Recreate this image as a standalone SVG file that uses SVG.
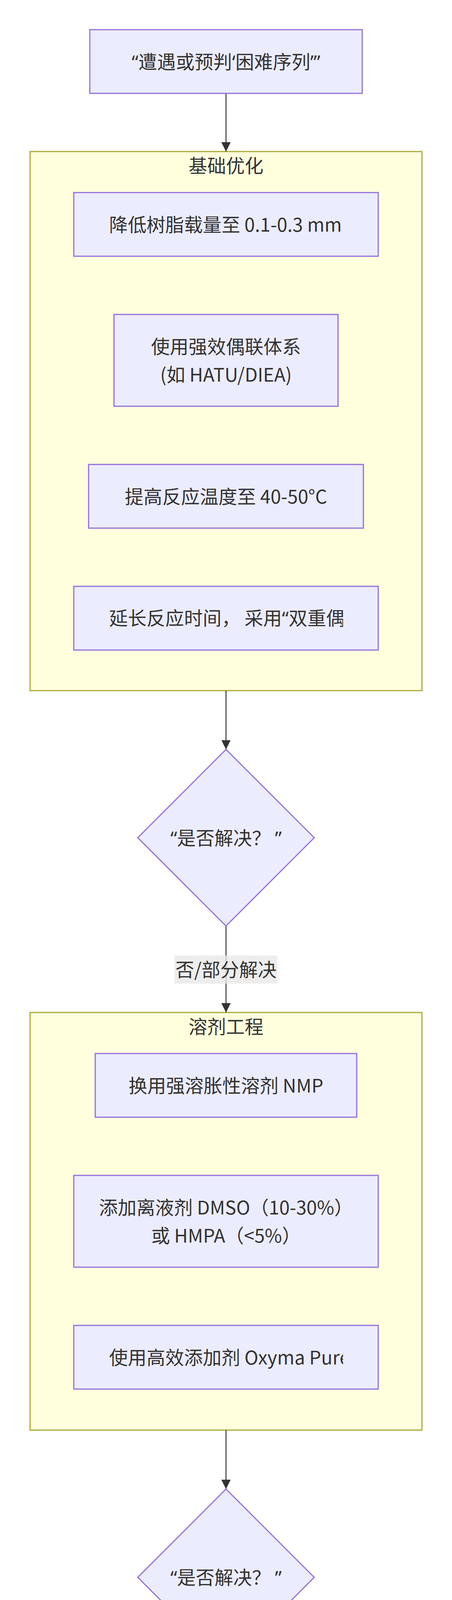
<svg xmlns="http://www.w3.org/2000/svg" width="1158" height="5701" viewBox="0 0 1158 5701">
<style>
.node rect, .node polygon { fill:#ECECFF; stroke:#9370DB; stroke-width:3; }
.cluster rect { fill:#FFFFDE; stroke:#AAAA33; stroke-width:3; }
text { font-family:'Noto Sans CJK SC','Noto Sans CJK JP',sans-serif; font-size:48px; fill:#333333; }
.q { font-family:'Noto Sans','Liberation Sans',sans-serif; }
.c { text-anchor:middle; }
.s { text-anchor:start; }
.edge { stroke:#333333; stroke-width:2.5; fill:none; marker-end:url(#arrow); }
.lbl { fill:#e8e8e8; fill-opacity:0.8; }
</style>
<defs>
<marker id="arrow" viewBox="0 0 10 10" refX="10" refY="5" markerUnits="userSpaceOnUse" markerWidth="24" markerHeight="24" orient="auto">
<path d="M0,0 L10,5 L0,10 z" fill="#333333"/>
</marker>
<clipPath id="clipN1"><rect x="279" y="493" width="600" height="163"/></clipPath>
<clipPath id="clipN4"><rect x="279" y="1501" width="600" height="163"/></clipPath>
<clipPath id="clipN7"><rect x="279" y="3393" width="600" height="163"/></clipPath>
</defs>
<rect x="0" y="0" width="1158" height="5701" fill="#ffffff"/>

<g id="clusters">
<g id="cluster-basic" class="cluster">
<rect x="77" y="388" width="1004" height="1380"/>
<text class="c" x="579" y="442">基础优化</text>
</g>
<g id="cluster-solvent" class="cluster">
<rect x="77" y="2592" width="1004" height="1069"/>
<text class="c" x="579" y="2646">溶剂工程</text>
</g>
<g id="cluster-backbone" class="cluster">
<rect x="100" y="4484" width="958" height="829"/>
<text class="c" x="579" y="4538">终极方案：骨架修饰</text>
</g>
</g>

<g id="connectors">
<line class="edge" x1="579" y1="239" x2="579" y2="388"/>
<line class="edge" x1="579" y1="1768" x2="579" y2="1918.5"/>
<line class="edge" x1="579" y1="2370.5" x2="579" y2="2592"/>
<line class="edge" x1="579" y1="3661" x2="579" y2="3812"/>
<line class="edge" x1="579" y1="4264" x2="579" y2="4484"/>
<line class="edge" x1="579" y1="5313" x2="579" y2="5462"/>
<g id="label-partial">
<rect class="lbl" x="447" y="2446" width="264" height="72"/>
<text class="c" x="579" y="2500">否/部分解决</text>
</g>
<g id="label-no">
<rect class="lbl" x="555" y="4338" width="48" height="72"/>
<text class="c" x="579" y="4392">否</text>
</g>
</g>

<g id="nodes">
<g id="start" class="node">
<rect x="230" y="76" width="698" height="163"/>
<text class="c" x="579" y="175.5"><tspan class="q">“</tspan>遭遇或预判<tspan class="q">‘</tspan>困难序列<tspan class="q">’”</tspan></text>
</g>
<g id="n1" class="node">
<rect x="189" y="493" width="780" height="163"/>
<text class="s" x="279.5" y="592.5" clip-path="url(#clipN1)">降低树脂载量至 0.1-0.3 mm</text>
</g>
<g id="n2" class="node">
<rect x="292" y="805" width="574" height="235"/>
<text class="c" x="579" y="904.5">使用强效偶联体系</text>
<text class="c" x="579" y="976.5">(如 HATU/DIEA)</text>
</g>
<g id="n3" class="node">
<rect x="227" y="1189" width="704" height="163"/>
<text class="c" x="579" y="1288.5">提高反应温度至 40-50°C</text>
</g>
<g id="n4" class="node">
<rect x="189" y="1501" width="780" height="163"/>
<text class="s" x="279.5" y="1600" clip-path="url(#clipN4)">延长反应时间， 采用<tspan class="q">“</tspan>双重偶</text>
</g>
<g id="d1" class="node">
<polygon points="579,1918.5 805,2144.5 579,2370.5 353,2144.5"/>
<text class="c" x="579" y="2162.5"><tspan class="q">“</tspan>是否解决？ <tspan class="q">”</tspan></text>
</g>
<g id="n5" class="node">
<rect x="244" y="2697" width="670" height="163"/>
<text class="c" x="579" y="2796.5">换用强溶胀性溶剂 NMP</text>
</g>
<g id="n6" class="node">
<rect x="189" y="3009" width="780" height="235"/>
<text class="c" x="579" y="3108.5">添加离液剂 DMSO（10-30%）</text>
<text class="c" x="579" y="3180.5">或 HMPA（&lt;5%）</text>
</g>
<g id="n7" class="node">
<rect x="189" y="3393" width="780" height="163"/>
<text class="s" x="279.5" y="3492.5" clip-path="url(#clipN7)">使用高效添加剂 Oxyma Pure</text>
</g>
<g id="d2" class="node">
<polygon points="579,3812 805,4038 579,4264 353,4038"/>
<text class="c" x="579" y="4056"><tspan class="q">“</tspan>是否解决？ <tspan class="q">”</tspan></text>
</g>
<g id="n8" class="node">
<rect x="265" y="4590" width="628" height="234"/>
<text class="c" x="579" y="4689">伪脯氨酸二肽 ψPro</text>
<text class="c" x="579" y="4761">(可逆， 诱导转角)</text>
</g>
<g id="n9" class="node">
<rect x="213" y="4973" width="732" height="235"/>
<text class="c" x="579" y="5072.5">2-羟基-4-甲氧基苄基 Hmb</text>
<text class="c" x="579" y="5144.5">(临时保护酰胺氮)</text>
</g>
<g id="end" class="node">
<rect x="272" y="5462" width="614" height="163"/>
<text class="c" x="579" y="5561.5">成功攻克<tspan class="q">“</tspan>困难序列<tspan class="q">”</tspan></text>
</g>
</g>
</svg>
